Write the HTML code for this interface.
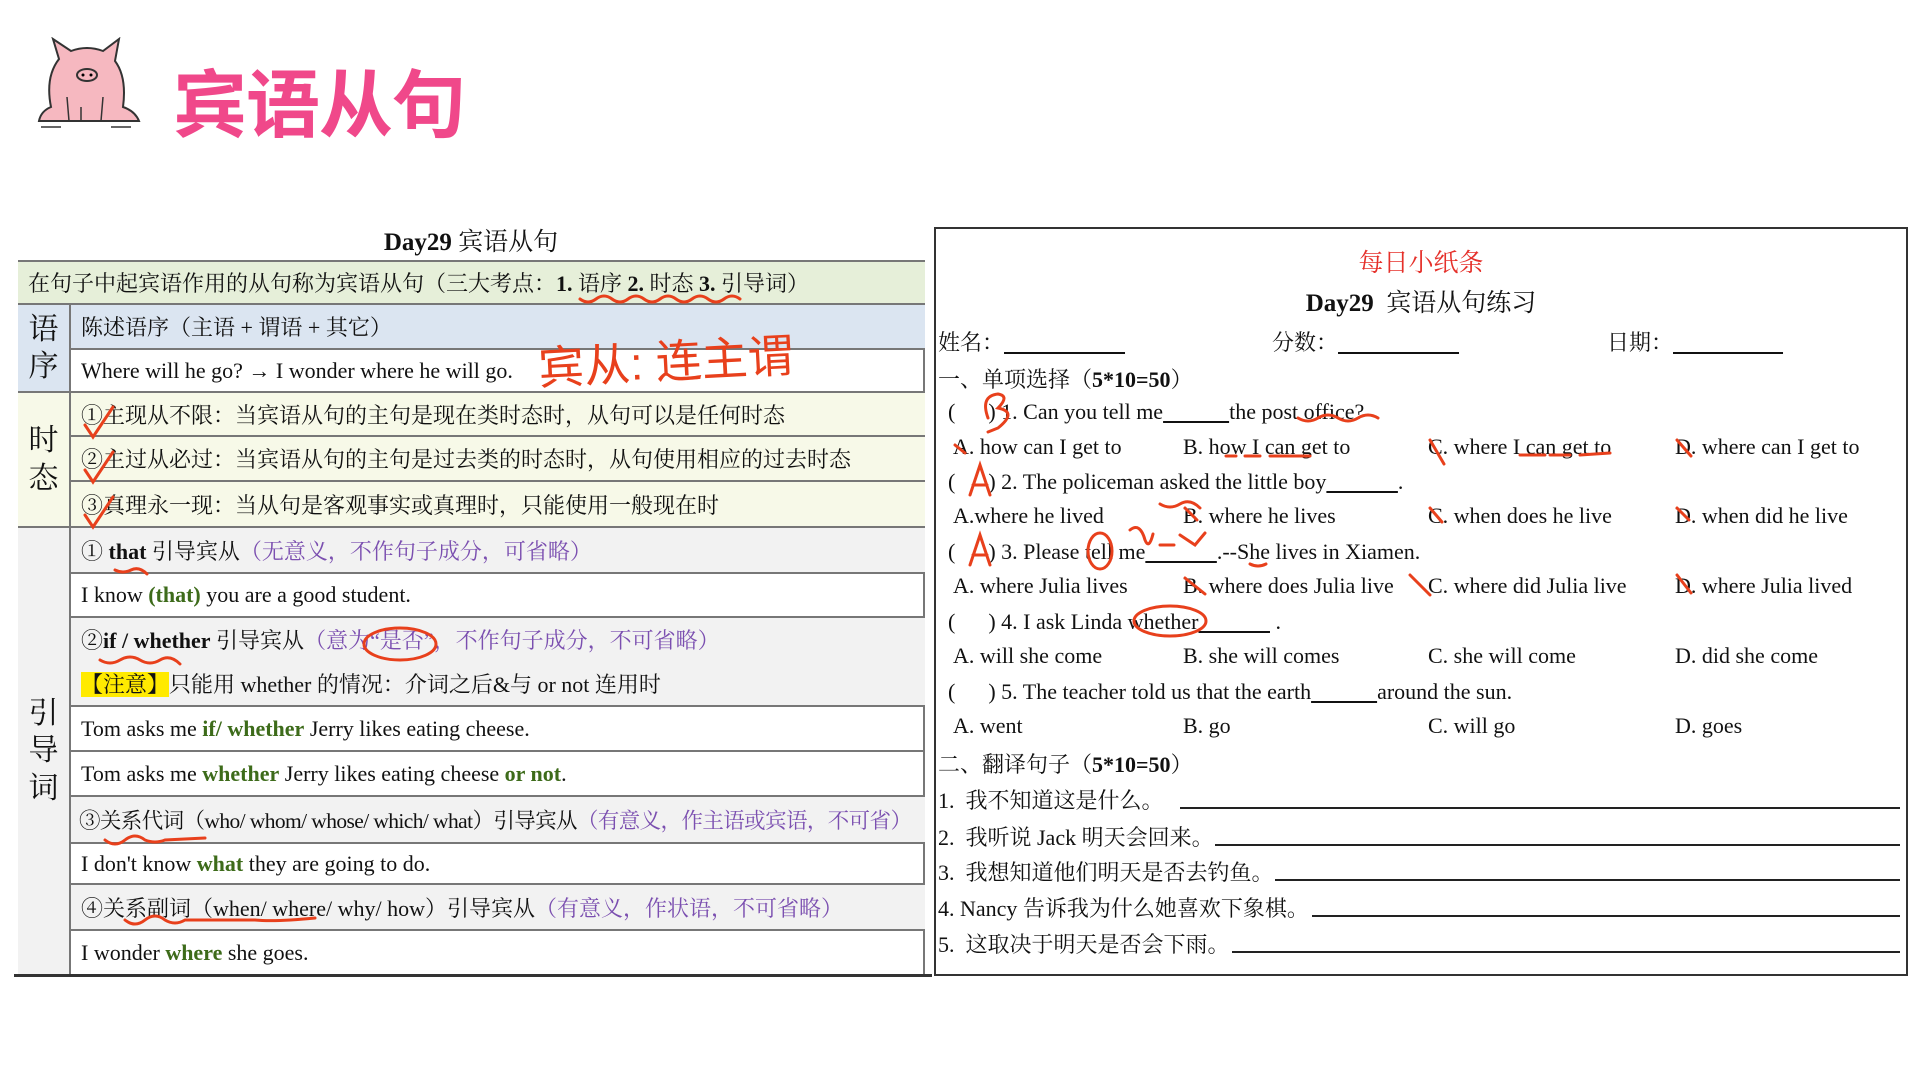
<!DOCTYPE html>
<html><head><meta charset="utf-8">
<style>
*{margin:0;padding:0;box-sizing:border-box}
body{width:1920px;height:1080px;background:#fff;position:relative;overflow:hidden;font-family:"Liberation Serif","Noto Serif CJK SC",serif;color:#111}
.a{position:absolute;white-space:nowrap}
.row{position:absolute;left:71px;width:854px;border-bottom:2px solid #777;font-size:22px;padding-left:10px;display:flex;align-items:center;white-space:nowrap;overflow:visible}
.row>div{white-space:nowrap}
.c1{position:absolute;left:18px;width:53px;border-right:2px solid #777;border-bottom:2px solid #777;font-size:30px;display:flex;flex-direction:column;align-items:center;justify-content:center;line-height:1.25}
.p{color:#7b4fb0}
.g{color:#3d6b1a;font-weight:bold}
.o{position:absolute;font-size:22px;white-space:nowrap}
</style></head><body>
<!-- pig -->
<svg class="a" style="left:31px;top:37px" width="112" height="94" viewBox="0 0 112 94">
<path d="M28 22 L22 2 L40 14 Q56 8 72 14 L88 2 L84 24 Q96 40 92 70 Q104 74 108 84 L8 84 Q10 74 20 70 Q14 40 28 22Z" fill="#f6b8c0" stroke="#333" stroke-width="2"/>
<ellipse cx="56" cy="38" rx="10" ry="6" fill="#f6b8c0" stroke="#333" stroke-width="2"/>
<circle cx="52" cy="38" r="1.5"/><circle cx="60" cy="38" r="1.5"/>
<path d="M36 60 L38 84 M72 60 L70 84 M50 70 L50 84" stroke="#333" stroke-width="1.5" fill="none"/>
<path d="M10 90 L30 90 M80 90 L100 90" stroke="#333" stroke-width="1.5"/>
</svg>
<div class="a" style="left:173px;top:46px;font-size:74px;font-weight:bold;color:#f0488a;font-family:'Noto Sans CJK SC',sans-serif;letter-spacing:-1px">宾语从句</div>

<!-- left table -->
<div class="a" style="left:0;width:942px;top:222px;text-align:center;font-size:25px"><b>Day29</b> 宾语从句</div>
<div class="a" style="left:18px;top:260px;width:907px;height:716px;border:2px solid #777"></div>
<div class="row" style="left:18px;width:907px;top:260px;height:45px;background:#e6efd9;border-top:2px solid #777"><div>在句子中起宾语作用的从句称为宾语从句（三大考点：<b>1.</b> 语序 <b>2.</b> 时态 <b>3.</b> 引导词）</div></div>
<div class="c1" style="top:305px;height:88px;background:#dbe5f1">语<br>序</div>
<div class="row" style="top:305px;height:45px;background:#dbe5f1"><div>陈述语序（主语 + 谓语 + 其它）</div></div>
<div class="row" style="top:350px;height:43px"><div>Where will he go? → I wonder where he will go.</div></div>
<div class="c1" style="top:393px;height:135px;background:#f7f9e8">时<br>态</div>
<div class="row" style="top:393px;height:44px;background:#f7f9e8"><div>①主现从不限：当宾语从句的主句是现在类时态时，从句可以是任何时态</div></div>
<div class="row" style="top:437px;height:45px;background:#f7f9e8"><div>②主过从必过：当宾语从句的主句是过去类的时态时，从句使用相应的过去时态</div></div>
<div class="row" style="top:482px;height:46px;background:#f7f9e8"><div>③真理永一现：当从句是客观事实或真理时，只能使用一般现在时</div></div>
<div class="c1" style="top:528px;height:448px;background:#f2f2f2">引<br>导<br>词</div>
<div class="row" style="top:528px;height:46px;background:#f2f2f2"><div>① <b>that</b> 引导宾从<span class="p">（无意义，不作句子成分，可省略）</span></div></div>
<div class="row" style="top:574px;height:44px"><div>I know <b class="g">(that)</b> you are a good student.</div></div>
<div class="row" style="top:618px;height:89px;background:#f2f2f2;flex-direction:column;align-items:flex-start;justify-content:space-around">
<div>②<b>if / whether</b> 引导宾从<span class="p">（意为“是否”，不作句子成分，不可省略）</span></div>
<div><span style="background:#ffea00">【注意】</span>只能用 whether 的情况：介词之后&amp;与 or not 连用时</div></div>
<div class="row" style="top:707px;height:45px"><div>Tom asks me <b class="g">if/ whether</b> Jerry likes eating cheese.</div></div>
<div class="row" style="top:752px;height:45px"><div>Tom asks me <b class="g">whether</b> Jerry likes eating cheese <b class="g">or not</b>.</div></div>
<div class="row" style="top:797px;height:47px;background:#f2f2f2;padding-left:8px"><div style="letter-spacing:-0.6px;font-size:21.5px">③关系代词（who/ whom/ whose/ which/ what）引导宾从<span class="p">（有意义，作主语或宾语，不可省）</span></div></div>
<div class="row" style="top:844px;height:41px"><div>I don't know <b class="g">what</b> they are going to do.</div></div>
<div class="row" style="top:885px;height:46px;background:#f2f2f2"><div>④关系副词（when/ where/ why/ how）引导宾从<span class="p">（有意义，作状语，不可省略）</span></div></div>
<div class="row" style="top:931px;height:45px"><div>I wonder <b class="g">where</b> she goes.</div></div>
<div class="a" style="left:14px;top:974px;width:918px;height:3px;background:#333"></div>
<div class="a" style="left:538px;top:326px;font-size:46px;color:#e8401c;font-family:'WenQuanYi Zen Hei',sans-serif;transform:rotate(-3deg)">宾从: 连主谓</div>

<!-- right sheet -->
<div class="a" style="left:934px;top:227px;width:974px;height:749px;border:2px solid #333"></div>
<div class="a" style="left:934px;width:974px;top:243px;text-align:center;font-size:25px;color:#e5302a">每日小纸条</div>
<div class="a" style="left:934px;width:974px;top:283px;text-align:center;font-size:25px"><b>Day29</b>&nbsp; 宾语从句练习</div>
<div class="o" style="left:938px;top:326px">姓名：<u>&nbsp;&nbsp;&nbsp;&nbsp;&nbsp;&nbsp;&nbsp;&nbsp;&nbsp;&nbsp;&nbsp;&nbsp;&nbsp;&nbsp;&nbsp;&nbsp;&nbsp;&nbsp;&nbsp;&nbsp;&nbsp;&nbsp;</u></div>
<div class="o" style="left:1272px;top:326px">分数：<u>&nbsp;&nbsp;&nbsp;&nbsp;&nbsp;&nbsp;&nbsp;&nbsp;&nbsp;&nbsp;&nbsp;&nbsp;&nbsp;&nbsp;&nbsp;&nbsp;&nbsp;&nbsp;&nbsp;&nbsp;&nbsp;&nbsp;</u></div>
<div class="o" style="left:1607px;top:326px">日期：<u>&nbsp;&nbsp;&nbsp;&nbsp;&nbsp;&nbsp;&nbsp;&nbsp;&nbsp;&nbsp;&nbsp;&nbsp;&nbsp;&nbsp;&nbsp;&nbsp;&nbsp;&nbsp;&nbsp;&nbsp;</u></div>
<div class="o" style="left:938px;top:363px">一、单项选择（<b>5*10=50</b>）</div>
<div class="o" style="left:948px;top:399px">(&nbsp;&nbsp;&nbsp;&nbsp;&nbsp;&nbsp;) 1. Can you tell me<u>&nbsp;&nbsp;&nbsp;&nbsp;&nbsp;&nbsp;&nbsp;&nbsp;&nbsp;&nbsp;&nbsp;&nbsp;</u>the post office?</div>
<div class="o" style="left:953px;top:434px">A. how can I get to</div><div class="o" style="left:1183px;top:434px">B. how I can get to</div><div class="o" style="left:1428px;top:434px">C. where I can get to</div><div class="o" style="left:1675px;top:434px">D. where can I get to</div>
<div class="o" style="left:948px;top:469px">(&nbsp;&nbsp;&nbsp;&nbsp;&nbsp;&nbsp;) 2. The policeman asked the little boy<u>&nbsp;&nbsp;&nbsp;&nbsp;&nbsp;&nbsp;&nbsp;&nbsp;&nbsp;&nbsp;&nbsp;&nbsp;&nbsp;</u>.</div>
<div class="o" style="left:953px;top:503px">A.where he lived</div><div class="o" style="left:1183px;top:503px">B. where he lives</div><div class="o" style="left:1428px;top:503px">C. when does he live</div><div class="o" style="left:1675px;top:503px">D. when did he live</div>
<div class="o" style="left:948px;top:539px">(&nbsp;&nbsp;&nbsp;&nbsp;&nbsp;&nbsp;) 3. Please tell me<u>&nbsp;&nbsp;&nbsp;&nbsp;&nbsp;&nbsp;&nbsp;&nbsp;&nbsp;&nbsp;&nbsp;&nbsp;&nbsp;</u>.--She lives in Xiamen.</div>
<div class="o" style="left:953px;top:573px">A. where Julia lives</div><div class="o" style="left:1183px;top:573px">B. where does Julia live</div><div class="o" style="left:1428px;top:573px">C. where did Julia live</div><div class="o" style="left:1675px;top:573px">D. where Julia lived</div>
<div class="o" style="left:948px;top:609px">(&nbsp;&nbsp;&nbsp;&nbsp;&nbsp;&nbsp;) 4. I ask Linda whether<u>&nbsp;&nbsp;&nbsp;&nbsp;&nbsp;&nbsp;&nbsp;&nbsp;&nbsp;&nbsp;&nbsp;&nbsp;&nbsp;</u> .</div>
<div class="o" style="left:953px;top:643px">A. will she come</div><div class="o" style="left:1183px;top:643px">B. she will comes</div><div class="o" style="left:1428px;top:643px">C. she will come</div><div class="o" style="left:1675px;top:643px">D. did she come</div>
<div class="o" style="left:948px;top:679px">(&nbsp;&nbsp;&nbsp;&nbsp;&nbsp;&nbsp;) 5. The teacher told us that the earth<u>&nbsp;&nbsp;&nbsp;&nbsp;&nbsp;&nbsp;&nbsp;&nbsp;&nbsp;&nbsp;&nbsp;&nbsp;</u>around the sun.</div>
<div class="o" style="left:953px;top:713px">A. went</div><div class="o" style="left:1183px;top:713px">B. go</div><div class="o" style="left:1428px;top:713px">C. will go</div><div class="o" style="left:1675px;top:713px">D. goes</div>
<div class="o" style="left:938px;top:748px">二、翻译句子（<b>5*10=50</b>）</div>
<div class="o" style="left:938px;top:784px">1.&nbsp; 我不知道这是什么。</div><div class="a" style="left:1180px;top:807px;width:720px;height:1.5px;background:#222"></div>
<div class="o" style="left:938px;top:821px">2.&nbsp; 我听说 Jack 明天会回来。</div><div class="a" style="left:1215px;top:844px;width:685px;height:1.5px;background:#222"></div>
<div class="o" style="left:938px;top:856px">3.&nbsp; 我想知道他们明天是否去钓鱼。</div><div class="a" style="left:1275px;top:879px;width:625px;height:1.5px;background:#222"></div>
<div class="o" style="left:938px;top:892px">4. Nancy 告诉我为什么她喜欢下象棋。</div><div class="a" style="left:1312px;top:915px;width:588px;height:1.5px;background:#222"></div>
<div class="o" style="left:938px;top:928px">5.&nbsp; 这取决于明天是否会下雨。</div><div class="a" style="left:1232px;top:951px;width:668px;height:1.5px;background:#222"></div>

<!-- annotations -->
<svg class="a" style="left:0;top:0" width="1920" height="1080" fill="none" stroke="#e8401c" stroke-width="3" stroke-linecap="round">
<path d="M580 299 q8 6 16 0 q8 -6 16 0 q8 6 16 0 q8 -6 16 0 q8 6 16 0 q8 -6 16 0 q8 6 16 0 q8 -6 16 0 q8 6 16 0 q8 -6 16 0"/>
<path d="M85 425 l8 12 l20 -30 M85 470 l8 12 l20 -30 M85 515 l8 12 l20 -30"/>
<path d="M115 570 q8 4 16 0 q8 -4 16 4"/>
<ellipse cx="400" cy="644" rx="36" ry="16"/>
<path d="M100 660 q10 6 20 0 q10 -6 20 0 q10 6 20 0 q10 -6 20 4"/>
<path d="M105 840 q10 8 20 0 q10 -8 20 0 q10 4 20 0 l40 -2"/>
<path d="M125 920 q10 8 20 0 q10 -8 20 0 q10 6 20 0 l70 0 q20 2 60 -2"/>
<path d="M988 418 q-8 -22 10 -24 q12 2 0 14 q20 4 0 20 l-10 4"/>
<path d="M970 495 l10 -30 l10 30 M973 485 l14 0"/>
<path d="M970 565 l10 -30 l10 30 M973 555 l14 0"/>
<path d="M1298 418 q10 6 20 0 q10 -6 20 0 q10 6 20 0 q10 -6 20 0"/>
<path d="M1226 456 l10 0 M1245 456 l15 0 M1270 456 l40 0"/>
<path d="M1430 440 l14 24 M1677 440 l14 16 M1430 508 l12 14 M1677 508 l12 12 M1185 508 l12 12 M1185 578 l20 16 M1410 575 l20 20 M1677 575 l14 18 M955 445 l10 8"/>
<path d="M1520 455 l25 0 M1550 455 l20 0 M1580 455 l30 -2"/>
<ellipse cx="1100" cy="551" rx="12" ry="18"/>
<path d="M1130 530 q10 -8 15 10 q4 10 8 -6 M1160 545 l14 0 M1180 535 l15 10 l10 -12"/>
<path d="M1160 504 q10 6 20 0 q10 -6 20 4 M1250 564 q8 4 16 0"/>
<ellipse cx="1170" cy="621" rx="36" ry="15"/>
</svg>
</body></html>
